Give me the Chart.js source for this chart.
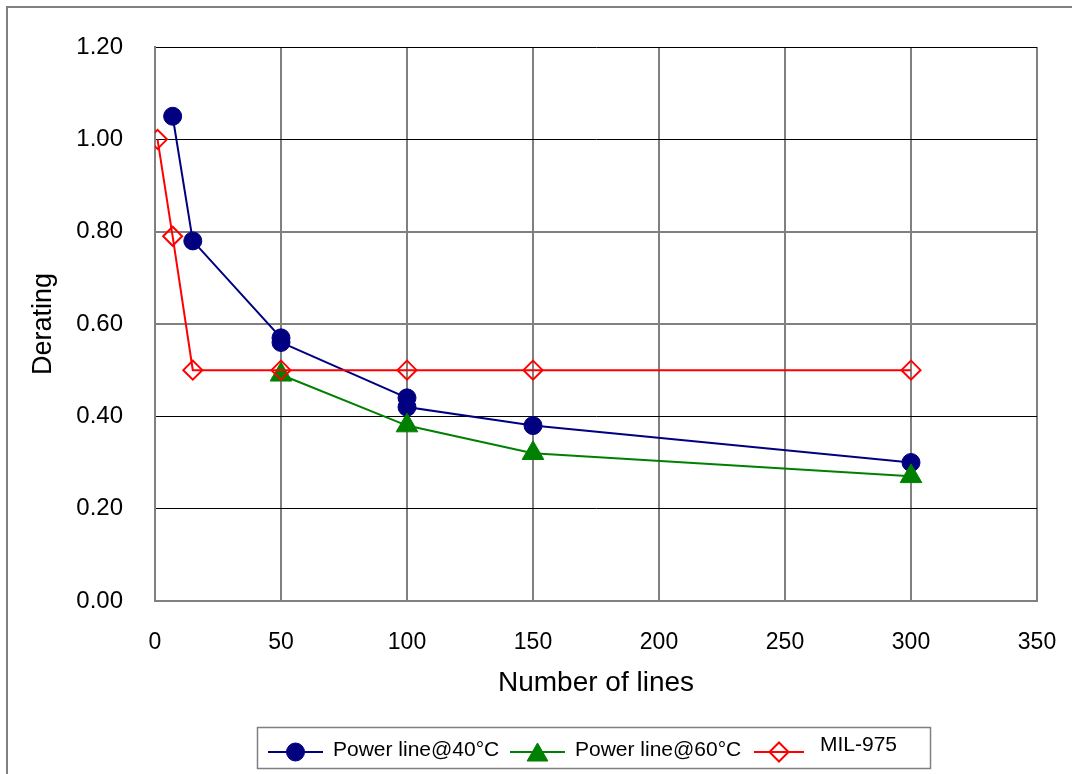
<!DOCTYPE html>
<html><head><meta charset="utf-8">
<script src="https://cdn.jsdelivr.net/npm/chart.js@4/dist/chart.umd.min.js"></script>
<style>html,body{margin:0;padding:0;background:#fff;} #wrap{width:1072px;height:774px;position:relative;}</style>
</head><body><div id="wrap"><canvas id="c" width="1072" height="774"></canvas></div>
<script>
const seriesNames = ["Power line@40°C", "Power line@60°C", "MIL-975"];
const p40X = [7, 15, 50, 50, 100, 100, 150, 300];
const p40Y = [1.05, 0.78, 0.57, 0.56, 0.44, 0.42, 0.38, 0.30];
const p60X = [50, 100, 150, 300];
const p60Y = [0.49, 0.38, 0.32, 0.27];
const milX = [1, 7, 15, 50, 100, 150, 300];
const milY = [1.00, 0.79, 0.50, 0.50, 0.50, 0.50, 0.50];
const xTicks = [0, 50, 100, 150, 200, 250, 300, 350];
const yTicks = [0, 0.2, 0.4, 0.6, 0.8, 1.0, 1.2];
const xTitle = "Number of lines";
const yTitle = "Derating";

const FONT = "'Liberation Sans', Arial, Helvetica, sans-serif";
const pts = (xs, ys) => xs.map((x, i) => ({x: x, y: ys[i]}));

const datasets = [
  {label: seriesNames[0], data: pts(p40X, p40Y), borderColor: '#000080', backgroundColor: '#000080',
   borderWidth: 2, pointStyle: 'circle', pointRadius: 9, pointBorderWidth: 1, order: 2},
  {label: seriesNames[1], data: pts(p60X, p60Y), borderColor: '#008000', backgroundColor: '#008000',
   borderWidth: 2, pointStyle: 'triangle', pointRadius: 12.5, pointBorderWidth: 1, order: 1},
  {label: seriesNames[2], data: pts(milX, milY), borderColor: '#ff0000', backgroundColor: 'rgba(0,0,0,0)',
   borderWidth: 2, pointStyle: 'rectRot', pointRadius: 9.5, pointBorderWidth: 2, order: 0}
];

const framePlugin = {
  id: 'frame',
  beforeDraw(chart) {
    const ctx = chart.ctx;
    ctx.save();
    ctx.fillStyle = '#fff';
    ctx.fillRect(0, 0, chart.width, chart.height);
    ctx.strokeStyle = '#808080';
    ctx.lineWidth = 2;
    ctx.beginPath();
    ctx.moveTo(7, chart.height);
    ctx.lineTo(7, 7);
    ctx.lineTo(chart.width, 7);
    ctx.stroke();
    ctx.restore();
  }
};

const legendPlugin = {
  id: 'boxLegend',
  afterDraw(chart) {
    const ctx = chart.ctx;
    ctx.save();
    ctx.strokeStyle = '#808080';
    ctx.lineWidth = 1.5;
    ctx.strokeRect(257.5, 727.5, 673, 41);
    const items = [
      {x0: 268, x1: 323, tx: 333, ty: 750},
      {x0: 510, x1: 565, tx: 575, ty: 750},
      {x0: 754, x1: 804, tx: 820, ty: 745}
    ];
    const ly = 752;
    chart.data.datasets.forEach((ds, i) => {
      const it = items[i];
      ctx.strokeStyle = ds.borderColor;
      ctx.lineWidth = ds.borderWidth;
      ctx.beginPath();
      ctx.moveTo(it.x0, ly);
      ctx.lineTo(it.x1, ly);
      ctx.stroke();
      ctx.fillStyle = ds.backgroundColor;
      ctx.strokeStyle = ds.borderColor;
      ctx.lineWidth = ds.pointBorderWidth;
      const cx = (it.x0 + it.x1) / 2;
      const cy = ds.pointStyle === 'triangle' ? ly + 3 : ly;
      Chart.helpers.drawPoint(ctx, {pointStyle: ds.pointStyle, radius: ds.pointStyle === 'triangle' ? 12 : ds.pointRadius, borderWidth: ds.pointBorderWidth}, cx, cy);
      ctx.fillStyle = '#000';
      ctx.font = '21px ' + FONT;
      ctx.textBaseline = 'middle';
      ctx.textAlign = 'left';
      ctx.fillText(ds.label, it.tx, it.ty);
    });
    ctx.restore();
  }
};

new Chart(document.getElementById('c'), {
  type: 'line',
  data: {datasets: datasets},
  plugins: [framePlugin, legendPlugin],
  options: {
    responsive: false,
    animation: false,
    devicePixelRatio: 1,
    layout: {padding: {left: 0, top: 47, right: 35, bottom: 74}},
    elements: {line: {tension: 0}},
    plugins: {legend: {display: false}, tooltip: {enabled: false}},
    scales: {
      x: {
        type: 'linear', min: xTicks[0], max: xTicks[xTicks.length - 1],
        afterBuildTicks: s => { s.ticks = xTicks.map(v => ({value: v})); },
        afterFit: s => { s.height = 99; s.paddingLeft = 0; s.paddingRight = 0; },
        ticks: {padding: 28, color: '#000', font: {family: FONT, size: 23}, maxRotation: 0,
                callback: v => String(v)},
        grid: {color: '#808080', lineWidth: 2, drawTicks: false},
        border: {color: '#808080', width: 2},
        title: {display: true, text: xTitle, color: '#000', font: {family: FONT, size: 28}, padding: {top: 0, bottom: 0}}
      },
      y: {
        type: 'linear', min: yTicks[0], max: yTicks[yTicks.length - 1],
        afterBuildTicks: s => { s.ticks = yTicks.map(v => ({value: v})); },
        afterFit: s => { s.width = 155; s.paddingTop = 0; s.paddingBottom = 0; },
        ticks: {padding: 32, color: '#000', font: {family: FONT, size: 24}, callback: v => Number(v).toFixed(2)},
        grid: {
          drawTicks: false,
          color: c => { const v = c.tick ? Math.round(c.tick.value * 10) : 0; return (v === 6 || v === 8 || v === 0) ? '#808080' : '#000'; },
          lineWidth: c => { const v = c.tick ? Math.round(c.tick.value * 10) : 0; return (v === 6 || v === 8 || v === 0) ? 2 : 1; }
        },
        border: {color: '#808080', width: 2},
        title: {display: true, text: yTitle, color: '#000', font: {family: FONT, size: 27}, padding: {top: 27, bottom: 0}}
      }
    }
  }
});
</script></body></html>
